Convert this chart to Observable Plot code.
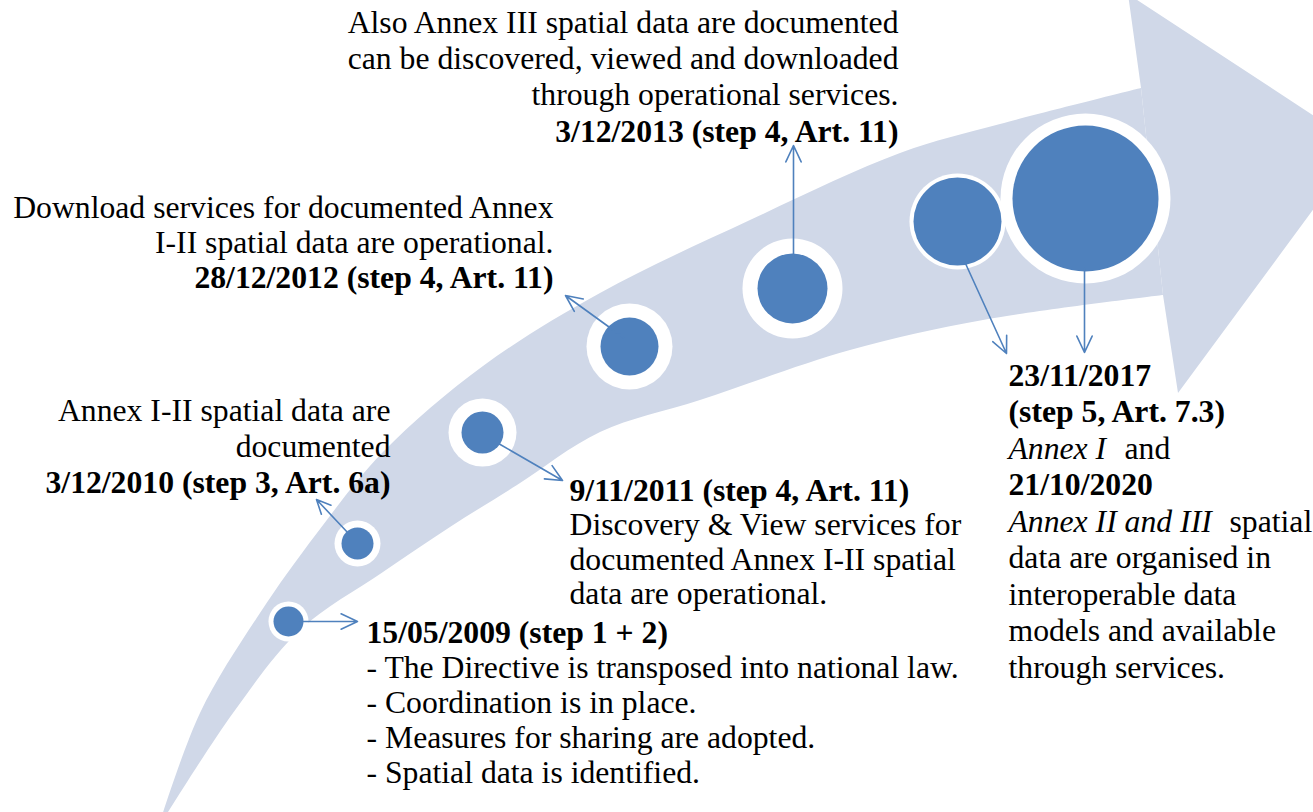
<!DOCTYPE html>
<html>
<head>
<meta charset="utf-8">
<script src="https://cdn.jsdelivr.net/npm/d3@7"></script>
<script src="https://cdn.jsdelivr.net/npm/@observablehq/plot@0.6"></script>
<style>
  html, body { margin: 0; padding: 0; background: #fff; overflow: hidden; }
  #chart svg { display: block; overflow: hidden; }
  #chart svg text { font-family: "Liberation Serif", "Times New Roman", serif !important; }
</style>
</head>
<body>
<div id="chart"></div>
<script>
// ---------- DATA ----------
// Milestone markers along the curved arrow (inner disc and white halo)
const markerX    = [288, 357, 482, 629, 792, 957, 1085];
const markerY    = [621, 543, 432, 346, 288, 221, 198];
const markerR    = [15, 16, 21, 29, 35, 44, 73];
const markerHalo = [20, 23, 34, 43, 50, 48, 85];

// Leader arrows from markers to their labels
const arrowX1 = [300, 348, 498, 623, 793, 965, 1084];
const arrowY1 = [621, 533, 443, 337, 257, 263, 268];
const arrowX2 = [357, 316, 562, 565, 793, 1006, 1084];
const arrowY2 = [621, 499, 480, 295, 145, 353, 352];

// Curved arrow body: upper and lower edge, paired
const bodyUpperX = [158, 200, 260, 317, 383, 483, 600, 750, 900, 1000, 1141];
const bodyUpperY = [828, 713, 613, 533, 452, 366, 293, 220, 153, 124, 88];
const bodyLowerX = [158, 233, 300, 383, 450, 517, 600, 700, 850, 983, 1163];
const bodyLowerY = [828, 713, 630, 572, 527, 485, 432, 400, 350, 320, 295];
// Arrow head: upper contour and lower contour, paired
const headUpperX = [1141, 1128, 1360];
const headUpperY = [88, -6, 146];
const headLowerX = [1163, 1178, 1360];
const headLowerY = [295, 393, 146];

// Text blocks (n = normal, b = bold, i = italic)
const textA = [["Also Annex III spatial data are documented", "n"], ["can be discovered, viewed and downloaded", "n"], ["through operational services.", "n"], ["3/12/2013 (step 4, Art. 11)", "b"]];
const textB = [["Download services for documented Annex", "n"], ["I-II spatial data are operational.", "n"], ["28/12/2012 (step 4, Art. 11)", "b"]];
const textC = [["Annex I-II spatial data are", "n"], ["documented", "n"], ["3/12/2010 (step 3, Art. 6a)", "b"]];
const textD = [["9/11/2011 (step 4, Art. 11)", "b"], ["Discovery & View services for", "n"], ["documented Annex I-II spatial", "n"], ["data are operational.", "n"]];
const textE = [["15/05/2009 (step 1 + 2)", "b"], ["- The Directive is transposed into national law.", "n"], ["- Coordination is in place.", "n"], ["- Measures for sharing are adopted.", "n"], ["- Spatial data is identified.", "n"]];
const textF = [["23/11/2017", "b"], ["(step 5, Art. 7.3)", "b"], ["Annex I", "i"], ["21/10/2020", "b"], ["Annex II and III", "i"], ["data are organised in", "n"], ["interoperable data", "n"], ["models and available", "n"], ["through services.", "n"]];
// words continuing an italic line in normal style: [line index, text, x]
const textFTails = [[2, "and", 1124], [4, "spatial", 1229]];

// ---------- LAYOUT ----------
const blocks = [
  {lines: textA, x: 898,  y0: 22,  dy: 36.3, anchor: "end"},
  {lines: textB, x: 553,  y0: 207, dy: 35.3, anchor: "end"},
  {lines: textC, x: 390,  y0: 410, dy: 36,   anchor: "end"},
  {lines: textD, x: 569,  y0: 490, dy: 34.5, anchor: "start"},
  {lines: textE, x: 366,  y0: 632, dy: 35,   anchor: "start"},
  {lines: textF, x: 1008, y0: 375, dy: 36.5, anchor: "start"}
];
const labels = [];
blocks.forEach(b => b.lines.forEach(([t, s], i) =>
  labels.push({text: t, style: s, anchor: b.anchor, x: b.x, y: b.y0 + i * b.dy})));
const fBlock = blocks[5];
textFTails.forEach(([i, t, x]) =>
  labels.push({text: t, style: "n", anchor: "start", x, y: fBlock.y0 + i * fBlock.dy}));

const markers = markerX.map((x, i) => ({x, y: markerY[i], r: markerR[i], halo: markerHalo[i]}));
const arrows = arrowX1.map((x1, i) => ({x1, y1: arrowY1[i], x2: arrowX2[i], y2: arrowY2[i]}));
const body = bodyUpperX.map((ux, i) => ({ux, uy: bodyUpperY[i], lx: bodyLowerX[i], ly: bodyLowerY[i]}));
const head = headUpperX.map((ux, i) => ({ux, uy: headUpperY[i], lx: headLowerX[i], ly: headLowerY[i]}));

const BAND = "#D0D8E8", BLUE = "#4F81BD";
const FONT = "Liberation Serif";
const FS = 31.7;

const textMark = (style, anchor) => Plot.text(
  labels.filter(d => d.style === style && d.anchor === anchor),
  {x: "x", y: "y", text: "text", textAnchor: anchor, lineAnchor: "middle",
   fontFamily: FONT, fontSize: FS, fill: "#000",
   fontWeight: style === "b" ? "bold" : "normal",
   fontStyle: style === "i" ? "italic" : "normal"});

const chart = Plot.plot({
  width: 1313, height: 812,
  marginTop: 0, marginRight: 0, marginBottom: 0, marginLeft: 0,
  x: {domain: [0, 1313], range: [0, 1313], axis: null},
  y: {domain: [0, 812], range: [0, 812], axis: null},
  r: {type: "identity"},
  style: {background: "#fff", overflow: "hidden", fontFamily: "Liberation Serif"},
  marks: [
    Plot.area(body, {x1: "ux", y1: "uy", x2: "lx", y2: "ly", fill: BAND, curve: "catmull-rom"}),
    Plot.area(head, {x1: "ux", y1: "uy", x2: "lx", y2: "ly", fill: BAND, curve: "linear"}),
    Plot.dot(markers, {x: "x", y: "y", r: "halo", fill: "#fff", stroke: null}),
    Plot.dot(markers, {x: "x", y: "y", r: "r", fill: BLUE, stroke: null}),
    Plot.arrow(arrows, {x1: "x1", y1: "y1", x2: "x2", y2: "y2", stroke: BLUE, strokeWidth: 1.6, headLength: 17, headAngle: 50}),
    textMark("n", "end"),
    textMark("b", "end"),
    textMark("n", "start"),
    textMark("b", "start"),
    textMark("i", "start")
  ]
});
document.getElementById("chart").appendChild(chart);
</script>
</body>
</html>
